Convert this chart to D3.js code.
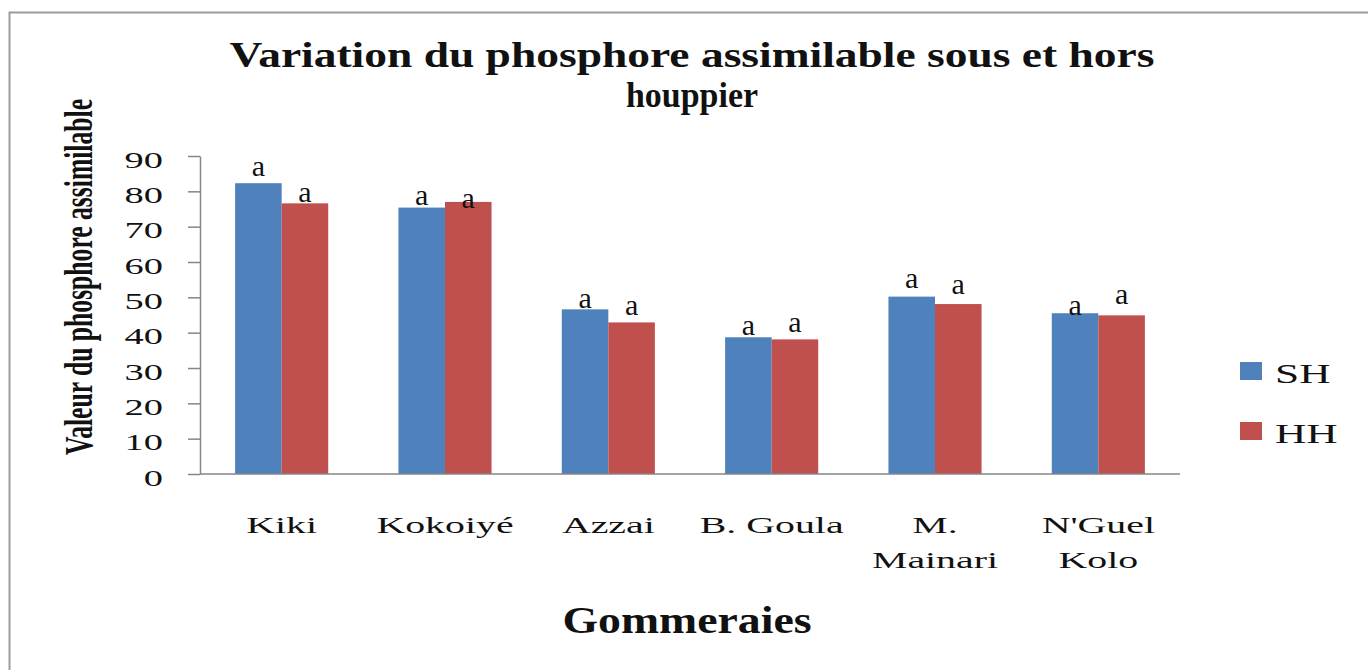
<!DOCTYPE html>
<html>
<head>
<meta charset="utf-8">
<script src="https://cdn.jsdelivr.net/npm/d3@7"></script>
<style>
  html, body { margin: 0; padding: 0; background: #fff; }
  svg { display: block; }
  text { font-family: "Liberation Serif", "Times New Roman", serif; fill: #111; }
</style>
</head>
<body>
<svg id="chart" width="1368" height="670"></svg>
<script>
// chart values
const categories = ["Kiki", "Kokoiyé", "Azzai", "B. Goula", "M.\nMainari", "N'Guel\nKolo"];
const seriesNames = ["SH", "HH"];
const valuesSH = [82.3, 75.4, 46.6, 38.7, 50.2, 45.5];
const valuesHH = [76.6, 77.0, 42.9, 38.1, 48.1, 44.9];
// significance letters and the level (in axis units) where each one sits
const lettersSH = ["a", "a", "a", "a", "a", "a"];
const lettersHH = ["a", "a", "a", "a", "a", "a"];
const letterLevelSH = [84.3, 76.1, 47.1, 39.3, 52.6, 45.0];
const letterLevelHH = [76.9, 75.3, 45.0, 40.3, 50.9, 48.1];
const yTicks = [0, 10, 20, 30, 40, 50, 60, 70, 80, 90];
const colors = ["#4F81BD", "#C0504D"];

const titleLines = ["Variation du phosphore assimilable sous et hors", "houppier"];
const yTitle = "Valeur du phosphore assimilable";
const xTitle = "Gommeraies";

const svg = d3.select("#chart");

// outer frame of the chart area (runs off the right and bottom edge)
svg.append("rect")
  .attr("x", 9.5).attr("y", 12.5)
  .attr("width", 1420).attr("height", 720)
  .attr("fill", "#fff")
  .attr("stroke", "#9c9c9c")
  .attr("stroke-width", 2);

const x0 = d3.scaleBand()
  .domain(categories)
  .range([200, 1180])
  .paddingInner(0.43)
  .paddingOuter(0.215);

const x1 = d3.scaleBand()
  .domain(seriesNames)
  .range([0, x0.bandwidth()]);

const y = d3.scaleLinear()
  .domain([0, 90])
  .range([474, 156]);

const rows = categories.map((c, i) => ({
  cat: c,
  vals: [
    {s: "SH", v: valuesSH[i], l: lettersSH[i], lv: letterLevelSH[i]},
    {s: "HH", v: valuesHH[i], l: lettersHH[i], lv: letterLevelHH[i]}
  ]
}));

// bars
const groups = svg.append("g").selectAll("g")
  .data(rows)
  .enter().append("g")
    .attr("transform", d => `translate(${x0(d.cat)},0)`);

groups.selectAll("rect")
  .data(d => d.vals)
  .enter().append("rect")
    .attr("x", d => x1(d.s))
    .attr("y", d => y(d.v))
    .attr("width", x1.bandwidth())
    .attr("height", d => y(0) - y(d.v))
    .attr("fill", (d, i) => colors[i]);

// the "a" letters above the bars
groups.selectAll("text.sig")
  .data(d => d.vals)
  .enter().append("text")
    .attr("class", "sig")
    .attr("x", d => x1(d.s) + x1.bandwidth() / 2)
    .attr("y", d => y(d.lv))
    .attr("text-anchor", "middle")
    .style("font-size", "30px")
    .text(d => d.l);

// y axis
const yAxis = svg.append("g")
  .attr("transform", "translate(200,0)")
  .call(d3.axisLeft(y).tickValues(yTicks).tickSizeInner(12).tickSizeOuter(0));

yAxis.select(".domain").attr("stroke", "#868686").attr("stroke-width", 1.5);
yAxis.selectAll(".tick line").attr("stroke", "#868686").attr("stroke-width", 1.5);
yAxis.selectAll(".tick text")
  .attr("x", null).attr("dy", null)
  .attr("transform", "translate(-37,11) scale(1.6,1)")
  .attr("fill", "#222")
  .style("font-size", "24px");

// x axis
const xAxis = svg.append("g")
  .attr("transform", "translate(0,474)")
  .call(d3.axisBottom(x0).tickSize(0).tickFormat(""));

xAxis.select(".domain")
  .attr("d", "M200,0H1180")
  .attr("stroke", "#868686").attr("stroke-width", 1.5);

xAxis.selectAll(".tick").each(function(d) {
  const lines = d.split("\n");
  const t = d3.select(this).select("text")
    .attr("y", null).attr("dy", null)
    .attr("transform", "translate(0,59) scale(1.66,1)")
    .attr("fill", "#111")
    .style("font-size", "24px")
    .text(null);
  lines.forEach((ln, k) => {
    t.append("tspan").attr("x", 0).attr("y", k * 35).text(ln);
  });
});

// titles
titleLines.forEach((ln, k) => {
  svg.append("text")
    .attr("x", 692).attr("y", k === 0 ? 67 : 107)
    .attr("text-anchor", "middle")
    .attr("textLength", k === 0 ? 925 : 132)
    .attr("lengthAdjust", "spacingAndGlyphs")
    .style("font-size", "36px").style("font-weight", "bold")
    .text(ln);
});

svg.append("text")
  .attr("transform", "translate(92,277) scale(1.35,1) rotate(-90)")
  .attr("text-anchor", "middle")
  .attr("textLength", 356)
  .attr("lengthAdjust", "spacingAndGlyphs")
  .style("font-size", "30px").style("font-weight", "bold")
  .text(yTitle);

svg.append("text")
  .attr("x", 687).attr("y", 633)
  .attr("text-anchor", "middle")
  .attr("textLength", 249)
  .attr("lengthAdjust", "spacingAndGlyphs")
  .style("font-size", "37px").style("font-weight", "bold")
  .text(xTitle);

// legend
const legend = svg.append("g").selectAll("g")
  .data(seriesNames)
  .enter().append("g")
    .attr("transform", (d, i) => `translate(1240,${362 + i * 60})`);

legend.append("rect")
  .attr("width", 22).attr("height", 18)
  .attr("fill", (d, i) => colors[i]);

legend.append("text")
  .attr("transform", "translate(35,21) scale(1.55,1)")
  .style("font-size", "28px")
  .text(d => d);
</script>
</body>
</html>
